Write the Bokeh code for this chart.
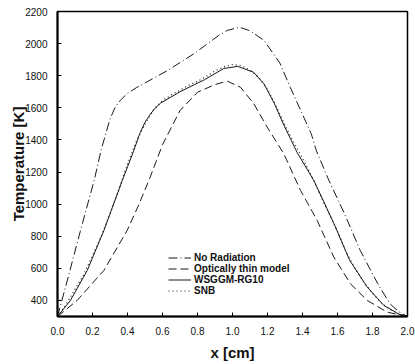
from bokeh.plotting import figure
from bokeh.models import Range1d, FixedTicker, PrintfTickFormatter, Legend, LegendItem
from bokeh.embed import file_html
from bokeh.resources import INLINE

# ---- data ----
x_norad = [0.0, 0.055, 0.13, 0.21, 0.25, 0.30, 0.33, 0.36, 0.40, 0.45, 0.63, 0.78, 0.92, 0.97, 1.04,
           1.10, 1.18, 1.27, 1.33, 1.39, 1.45, 1.48, 1.55, 1.64, 1.73, 1.83, 1.90, 1.95, 2.0]
t_norad = [300, 520, 830, 1150, 1340, 1530, 1605, 1648, 1690, 1725, 1833, 1937, 2050, 2082, 2102,
           2080, 2020, 1880, 1728, 1583, 1438, 1330, 1150, 940, 711, 504, 379, 330, 300]

x_thin = [0.0, 0.112, 0.265, 0.398, 0.46, 0.522, 0.60, 0.70, 0.80, 0.90, 0.97, 1.046,
          1.122, 1.198, 1.293, 1.389, 1.484, 1.579, 1.674, 1.77, 1.884, 2.0]
t_thin = [300, 400, 587, 836, 985, 1147, 1370, 1583, 1697, 1745, 1766, 1728,
          1625, 1480, 1314, 1085, 898, 670, 504, 400, 327, 300]

x_wsggm = [0.0, 0.074, 0.17, 0.265, 0.37, 0.436, 0.47, 0.50, 0.53, 0.56, 0.59, 0.70, 0.84, 0.95, 1.03,
           1.12, 1.18, 1.24, 1.29, 1.33, 1.37, 1.465, 1.58, 1.67, 1.77, 1.865, 1.95, 2.0]
t_wsggm = [300, 400, 587, 836, 1147, 1334, 1440, 1510, 1560, 1600, 1630, 1700, 1775, 1845, 1858,
           1822, 1749, 1625, 1500, 1410, 1320, 1147, 878, 649, 483, 369, 315, 300]

x_snb = [0.0, 0.05, 0.1, 0.15, 0.2, 0.25, 0.3, 0.35, 0.4, 0.45, 0.5, 0.55, 0.6, 0.65, 0.7,
         0.75, 0.8, 0.85, 0.9, 0.95, 1.0, 1.05, 1.1, 1.15, 1.2, 1.25, 1.3, 1.35, 1.4, 1.45,
         1.5, 1.55, 1.6, 1.65, 1.7, 1.75, 1.8, 1.85, 1.9, 1.95, 2.0]
t_snb = [300, 375, 470, 560, 680, 800, 940, 1090, 1250, 1390, 1500, 1590, 1645, 1680, 1710,
         1740, 1765, 1795, 1830, 1855, 1870, 1862, 1835, 1790, 1715, 1610, 1490, 1385, 1285, 1180,
         1060, 945, 830, 700, 600, 515, 445, 385, 345, 315, 300]

series_labels = ["No Radiation", "Optically thin model", "WSGGM-RG10", "SNB"]
x_ticks = [0.0, 0.2, 0.4, 0.6, 0.8, 1.0, 1.2, 1.4, 1.6, 1.8, 2.0]
y_ticks = [400, 600, 800, 1000, 1200, 1400, 1600, 1800, 2000, 2200]
x_title = "x [cm]"
y_title = "Temperature [K]"

FONT = "Liberation Sans"
INK = "#1a1a1a"

p = figure(width=415, height=364, output_backend="svg", toolbar_location=None,
           x_range=Range1d(0, 2.0), y_range=Range1d(300, 2200),
           min_border_left=57, min_border_right=8, min_border_top=11, min_border_bottom=48)
p.grid.visible = False
p.background_fill_color = "white"
p.border_fill_color = "white"
p.outline_line_color = "black"
p.outline_line_width = 1.5

r1 = p.line(x_norad, t_norad, line_color=INK, line_width=1, line_dash="9 3 1 3")
r2 = p.line(x_thin, t_thin, line_color=INK, line_width=1, line_dash="8 4")
r3 = p.line(x_wsggm, t_wsggm, line_color=INK, line_width=1)
r4 = p.line(x_snb, t_snb, line_color=INK, line_width=1.2, line_dash="1 3")

for ax in (p.xaxis[0], p.yaxis[0]):
    ax.axis_line_width = 2
    ax.axis_line_color = "black"
    ax.major_tick_in = 4
    ax.major_tick_out = 0
    ax.minor_tick_line_color = None
    ax.major_tick_line_color = "black"
    ax.major_label_text_font = FONT
    ax.major_label_text_font_size = "10px"
    ax.major_label_text_color = "#111111"
    ax.axis_label_text_font = FONT
    ax.axis_label_text_font_size = "15px"
    ax.axis_label_text_font_style = "bold"
    ax.axis_label_text_color = "#111111"

p.xaxis.major_label_standoff = 10
p.yaxis.major_label_standoff = 10
p.xaxis.ticker = FixedTicker(ticks=x_ticks)
p.xaxis.formatter = PrintfTickFormatter(format="%.1f")
p.yaxis.ticker = FixedTicker(ticks=y_ticks)
p.xaxis.axis_label = x_title
p.yaxis.axis_label = y_title
p.xaxis.axis_label_standoff = 6
p.yaxis.axis_label_standoff = -5

legend = Legend(items=[LegendItem(label=series_labels[0], renderers=[r1]),
                       LegendItem(label=series_labels[1], renderers=[r2]),
                       LegendItem(label=series_labels[2], renderers=[r3]),
                       LegendItem(label=series_labels[3], renderers=[r4])],
                location=(111, 20), padding=0, margin=0, spacing=0,
                glyph_width=23, glyph_height=11, label_height=11, label_standoff=3,
                label_text_font=FONT, label_text_font_size="10px",
                label_text_font_style="bold", label_text_color="#111111",
                border_line_alpha=0, background_fill_alpha=0)
p.add_layout(legend, "center")

open("out.html", "w").write(file_html(p, INLINE))
